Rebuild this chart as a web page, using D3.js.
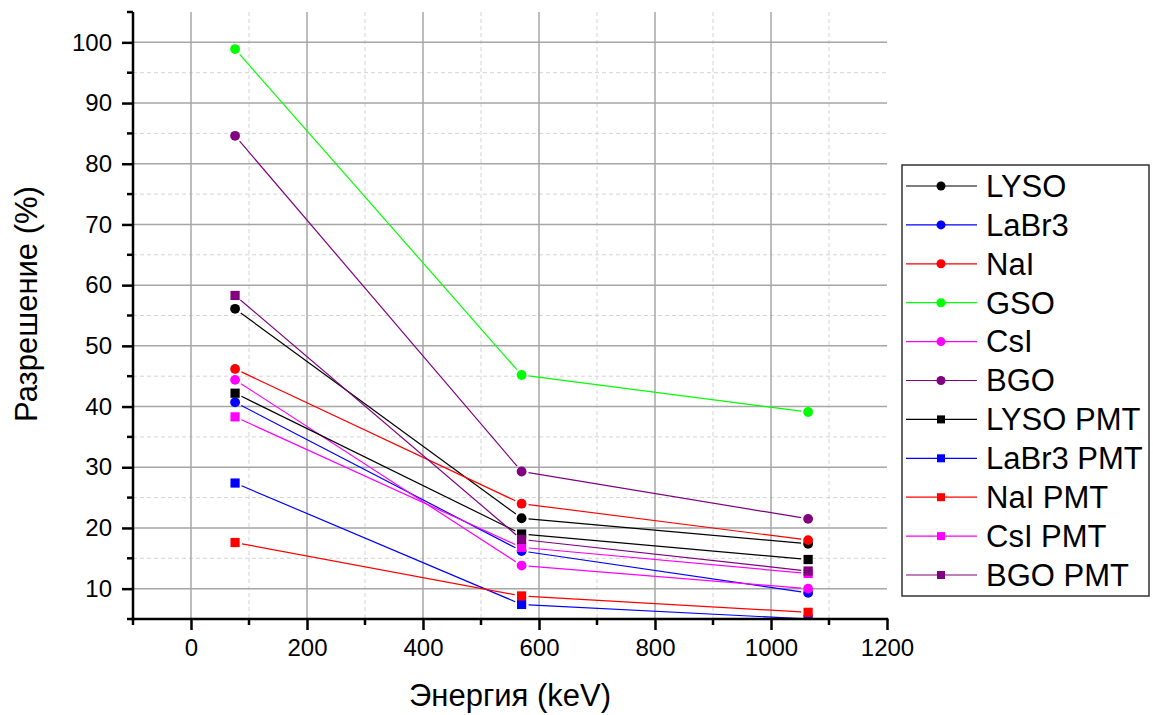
<!DOCTYPE html>
<html>
<head>
<meta charset="utf-8">
<script src="https://cdn.jsdelivr.net/npm/d3@7"></script>
<style>
  html, body { margin: 0; padding: 0; background: #fff; }
  svg { display: block; font-family: "Liberation Sans", Arial, sans-serif; }
</style>
</head>
<body>
<svg id="chart" width="1153" height="715"></svg>
<script>
// Energies of the measured lines (keV)
const energies = [76, 570, 1064];

// Series names, in legend / drawing order
const seriesNames = ["LYSO", "LaBr3", "NaI", "GSO", "CsI", "BGO",
                     "LYSO PMT", "LaBr3 PMT", "NaI PMT", "CsI PMT", "BGO PMT"];

// Energy resolution (%) at each energy
const lyso      = [56.1, 21.6, 17.4];
const labr3     = [40.7, 16.2, 9.3];
const nai       = [46.2, 24.0, 18.0];
const gso       = [98.9, 45.2, 39.1];
const csi       = [44.4, 13.8, 10.0];
const bgo       = [84.6, 29.3, 21.5];
const lysoPmt   = [42.2, 19.0, 14.8];
const labr3Pmt  = [27.4, 7.4, 5.0];
const naiPmt    = [17.6, 8.8, 6.1];
const csiPmt    = [38.3, 16.8, 12.5];
const bgoPmt    = [58.3, 18.1, 12.9];

const seriesValues = [lyso, labr3, nai, gso, csi, bgo,
                      lysoPmt, labr3Pmt, naiPmt, csiPmt, bgoPmt];

const seriesColors = ["#000000", "#0000ff", "#ff0000", "#00ff00", "#ff00ff", "#800080",
                      "#000000", "#0000ff", "#ff0000", "#ff00ff", "#800080"];
const seriesShapes = ["circle", "circle", "circle", "circle", "circle", "circle",
                      "square", "square", "square", "square", "square"];

// Axis ticks
const xMajorTicks = [0, 200, 400, 600, 800, 1000, 1200];
const xMinorTicks = [-100, 100, 300, 500, 700, 900, 1100];
const yMajorTicks = [10, 20, 30, 40, 50, 60, 70, 80, 90, 100];
const yMinorTicks = [5, 15, 25, 35, 45, 55, 65, 75, 85, 95, 105];

const xTitle = "Энергия (keV)";
const yTitle = "Разрешение (%)";

const svg = d3.select("#chart");
const plot = { left: 133, right: 887, top: 12, bottom: 619 };

const x = d3.scaleLinear().domain([-100, 1200]).range([plot.left, plot.right]);
const y = d3.scaleLinear().domain([5, 105]).range([plot.bottom, plot.top]);

// Grid: dashed minor lines under solid major lines
const grid = svg.append("g");
grid.selectAll(".vminor").data(xMinorTicks.filter(d => d > -100))
  .join("line")
  .attr("x1", d => x(d)).attr("x2", d => x(d))
  .attr("y1", plot.top).attr("y2", plot.bottom)
  .attr("stroke", "#d4d4d4").attr("stroke-width", 1).attr("stroke-dasharray", "4,3");
grid.selectAll(".hminor").data(yMinorTicks.filter(d => d > 5 && d < 105))
  .join("line")
  .attr("x1", plot.left).attr("x2", plot.right)
  .attr("y1", d => y(d)).attr("y2", d => y(d))
  .attr("stroke", "#d4d4d4").attr("stroke-width", 1).attr("stroke-dasharray", "4,3");
grid.selectAll(".vmajor").data(xMajorTicks.filter(d => d < 1200))
  .join("line")
  .attr("x1", d => x(d)).attr("x2", d => x(d))
  .attr("y1", plot.top).attr("y2", plot.bottom)
  .attr("stroke", "#a6a6a6").attr("stroke-width", 1.5);
grid.selectAll(".hmajor").data(yMajorTicks)
  .join("line")
  .attr("x1", plot.left).attr("x2", plot.right)
  .attr("y1", d => y(d)).attr("y2", d => y(d))
  .attr("stroke", "#a6a6a6").attr("stroke-width", 1.5);

// Clip marks to the plotting area
svg.append("defs").append("clipPath").attr("id", "plotClip")
  .append("rect")
  .attr("x", plot.left).attr("y", plot.top)
  .attr("width", plot.right - plot.left).attr("height", plot.bottom - plot.top);

const marks = svg.append("g").attr("clip-path", "url(#plotClip)");
const gap = 7;

// Draw a marker of the given shape centred on (cx, cy)
function drawMarker(g, shape, cx, cy, color) {
  if (shape === "circle") {
    g.append("circle").attr("cx", cx).attr("cy", cy).attr("r", 4.9).attr("fill", color);
  } else {
    g.append("rect").attr("x", cx - 4.6).attr("y", cy - 4.6)
      .attr("width", 9.2).attr("height", 9.2).attr("fill", color);
  }
}

seriesValues.forEach((vals, i) => {
  const color = seriesColors[i];
  const g = marks.append("g");
  const pts = vals.map((v, j) => [x(energies[j]), y(v)]);
  // segments, trimmed so a small gap is left around each marker
  for (let j = 0; j < pts.length - 1; j++) {
    const [x0, y0] = pts[j], [x1, y1] = pts[j + 1];
    const len = Math.hypot(x1 - x0, y1 - y0);
    const ux = (x1 - x0) / len, uy = (y1 - y0) / len;
    g.append("line")
      .attr("x1", x0 + ux * gap).attr("y1", y0 + uy * gap)
      .attr("x2", x1 - ux * gap).attr("y2", y1 - uy * gap)
      .attr("stroke", color).attr("stroke-width", 1.2);
  }
  pts.forEach(([px, py]) => drawMarker(g, seriesShapes[i], px, py, color));
});

// Axes
const tickFont = 24;
const fmt = d3.format("d");
const xAxis = svg.append("g").attr("transform", `translate(0,${plot.bottom})`)
  .call(d3.axisBottom(x).tickValues(xMajorTicks).tickFormat(fmt)
    .tickSize(11).tickSizeOuter(0).tickPadding(9));
xAxis.append("g").selectAll("line").data(xMinorTicks).join("line")
  .attr("x1", d => x(d)).attr("x2", d => x(d)).attr("y1", 0).attr("y2", 6)
  .attr("stroke", "#000").attr("stroke-width", 2.5);

const yAxis = svg.append("g").attr("transform", `translate(${plot.left},0)`)
  .call(d3.axisLeft(y).tickValues(yMajorTicks).tickFormat(fmt)
    .tickSize(11).tickSizeOuter(0).tickPadding(10));
yAxis.append("g").selectAll("line").data(yMinorTicks).join("line")
  .attr("x1", 0).attr("x2", -6).attr("y1", d => y(d)).attr("y2", d => y(d))
  .attr("stroke", "#000").attr("stroke-width", 2.5);

[xAxis, yAxis].forEach(ax => {
  ax.select(".domain").attr("stroke", "#000").attr("stroke-width", 2.5);
  ax.selectAll(".tick line").attr("stroke", "#000").attr("stroke-width", 2.5);
  ax.selectAll(".tick text").attr("fill", "#000")
    .style("font-size", tickFont + "px")
    .style("font-family", "'Liberation Sans', Arial, sans-serif");
});
// extend the axis lines so they meet at the corner
xAxis.select(".domain").attr("d", `M${plot.left - 1.25},0H${plot.right + 1.25}`);
yAxis.select(".domain").attr("d", `M0,${plot.bottom + 1.25}V${plot.top}`);

// Axis titles
svg.append("text")
  .attr("x", (plot.left + plot.right) / 2).attr("y", 706)
  .attr("text-anchor", "middle").style("font-size", "31px").attr("fill", "#000")
  .text(xTitle);
svg.append("text")
  .attr("transform", `translate(37,304) rotate(-90)`)
  .attr("text-anchor", "middle").style("font-size", "31px").attr("fill", "#000")
  .text(yTitle);

// Legend
const legend = svg.append("g");
legend.append("rect")
  .attr("x", 902).attr("y", 165).attr("width", 247).attr("height", 431)
  .attr("fill", "#fff").attr("stroke", "#333").attr("stroke-width", 1.5);
seriesNames.forEach((name, i) => {
  const cy = 186 + i * 38.9;
  const color = seriesColors[i];
  const row = legend.append("g");
  row.append("line").attr("x1", 906).attr("x2", 977).attr("y1", cy).attr("y2", cy)
    .attr("stroke", color).attr("stroke-width", 1.2);
  if (seriesShapes[i] === "circle") {
    row.append("circle").attr("cx", 941).attr("cy", cy).attr("r", 4.5).attr("fill", color);
  } else {
    row.append("rect").attr("x", 937).attr("y", cy - 4).attr("width", 8).attr("height", 8).attr("fill", color);
  }
  row.append("text").attr("x", 986).attr("y", cy + 10.8)
    .style("font-size", "31px").attr("fill", "#000").text(name);
});
</script>
</body>
</html>
